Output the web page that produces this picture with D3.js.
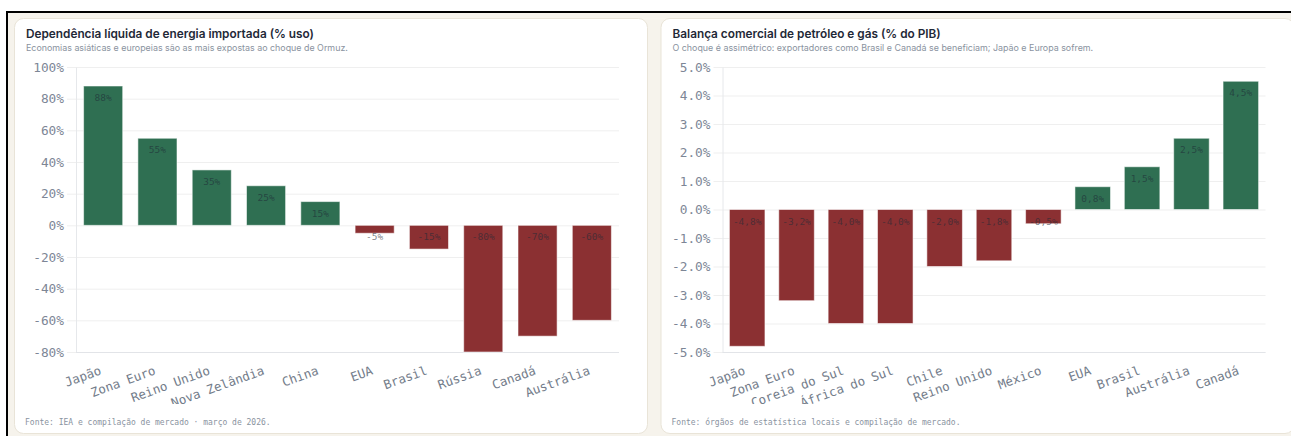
<!DOCTYPE html>
<html><head><meta charset="utf-8">
<script src="https://cdn.jsdelivr.net/npm/d3@7"></script>
<style>
html,body{margin:0;padding:0;background:#fff;}
svg{display:block;}
</style></head>
<body>
<svg id="root" width="1291" height="436"></svg>
<script>
// ---------- data ----------
const leftTitle = "Dependência líquida de energia importada (% uso)";
const leftSubtitle = "Economias asiáticas e europeias são as mais expostas ao choque de Ormuz.";
const leftSource = "Fonte: IEA e compilação de mercado · março de 2026.";
const leftCategories = ["Japão","Zona Euro","Reino Unido","Nova Zelândia","China","EUA","Brasil","Rússia","Canadá","Austrália"];
const leftValues = [88,55,35,25,15,-5,-15,-80,-70,-60];
const leftTicks = [100,80,60,40,20,0,-20,-40,-60,-80];

const rightTitle = "Balança comercial de petróleo e gás (% do PIB)";
const rightSubtitle = "O choque é assimétrico: exportadores como Brasil e Canadá se beneficiam; Japão e Europa sofrem.";
const rightSource = "Fonte: órgãos de estatística locais e compilação de mercado.";
const rightCategories = ["Japão","Zona Euro","Coreia do Sul","África do Sul","Chile","Reino Unido","México","EUA","Brasil","Austrália","Canadá"];
const rightValues = [-4.8,-3.2,-4.0,-4.0,-2.0,-1.8,-0.5,0.8,1.5,2.5,4.5];
const rightTicks = [5,4,3,2,1,0,-1,-2,-3,-4,-5];

// ---------- style ----------
const GREEN = "#2f6f52", RED = "#8b3032";
const MONO = "'DejaVu Sans Mono', monospace";
const SANS = "Inter, 'Noto Sans', sans-serif";

const svg = d3.select("#root");
svg.append("rect").attr("x",0).attr("y",0).attr("width",1291).attr("height",436).attr("fill","#fff");
// outer frame
svg.append("rect").attr("x",8).attr("y",13).attr("width",1283).attr("height",423).attr("fill","#f6f3ec");
svg.append("rect").attr("x",6).attr("y",11).attr("width",1285).attr("height",2).attr("fill","#000");
svg.append("rect").attr("x",6).attr("y",11).attr("width",2).attr("height",425).attr("fill","#000");

const defs = svg.append("defs");

function drawCard(opts, idx){
  const cx = opts.x, cy = 18.5, cw = 633, ch = 415;
  const card = svg.append("g");
  card.append("rect").attr("x",cx+0.5).attr("y",cy).attr("width",cw).attr("height",ch)
    .attr("rx",9).attr("fill","#fff").attr("stroke","#e9e4d8").attr("stroke-width",1);
  card.append("text").attr("x",cx+12).attr("y",38).text(opts.title)
    .style("font-family",SANS).style("font-size","11.8px").style("font-weight",600).attr("fill","#1f2937");
  card.append("text").attr("x",cx+12).attr("y",51).text(opts.subtitle)
    .style("font-family",SANS).style("font-size","8.9px").attr("fill","#8a93a0");
  card.append("text").attr("x",cx+11).attr("y",425).text(opts.source)
    .style("font-family",MONO).style("font-size","8px").attr("fill","#8a93a0");

  const x0 = cx + 62, x1 = cx + 605, yTop = 67, yBot = 352;
  const x = d3.scaleBand().domain(opts.categories).range([x0,x1]).paddingInner(0.28).paddingOuter(0.14);
  const y = d3.scaleLinear().domain(opts.domain).range([yBot,yTop]);

  defs.append("clipPath").attr("id","clip"+idx).append("rect")
    .attr("x",cx).attr("y",cy).attr("width",cw).attr("height",404-cy);
  const g = card.append("g").attr("clip-path","url(#clip"+idx+")");

  // grid
  g.append("g").selectAll("line").data(opts.ticks).join("line")
    .attr("x1",x0-9).attr("x2",x1).attr("y1",d=>y(d)+0.5).attr("y2",d=>y(d)+0.5)
    .attr("stroke","#efefef").attr("stroke-width",1);
  // y axis
  const ya = g.append("g").attr("transform",`translate(${x0},0)`)
    .call(d3.axisLeft(y).tickValues(opts.ticks).tickSize(0).tickPadding(12).tickFormat(opts.tickFmt));
  ya.select(".domain").attr("stroke","#e6e8eb");
  ya.selectAll("text").style("font-family",MONO).style("font-size","12.8px").attr("fill","#7d8696");
  // bottom line
  g.append("line").attr("x1",x0).attr("x2",x1).attr("y1",yBot+0.5).attr("y2",yBot+0.5).attr("stroke","#e2e4e8");

  // bars
  g.append("g").selectAll("rect").data(opts.values).join("rect")
    .attr("x",(d,i)=>x(opts.categories[i]))
    .attr("width",x.bandwidth())
    .attr("y",d=>y(Math.max(0,d)))
    .attr("height",d=>Math.abs(y(d)-y(0)))
    .attr("fill",d=>d>=0?GREEN:RED)
    .attr("stroke","rgba(255,255,255,0.55)").attr("stroke-width",1);
  // value labels
  g.append("g").selectAll("text").data(opts.values).join("text")
    .attr("x",(d,i)=>x(opts.categories[i])+x.bandwidth()/2)
    .attr("y",d=>y(Math.max(0,d))+15)
    .attr("text-anchor","middle")
    .style("font-family",MONO).style("font-size","9.5px")
    .attr("fill","#1e2a36").attr("fill-opacity",0.6)
    .text(opts.labelFmt);

  // x axis labels
  const xa = g.append("g").attr("transform",`translate(0,${yBot})`)
    .call(d3.axisBottom(x).tickSize(0).tickPadding(0));
  xa.select(".domain").remove();
  xa.selectAll("text")
    .attr("y",0).attr("dy",0)
    .attr("transform","translate(-1,22) rotate(-20)")
    .style("text-anchor","end")
    .style("font-family",MONO).style("font-size","12.5px").attr("fill","#737c8a");
}

drawCard({x:14, title:leftTitle, subtitle:leftSubtitle, source:leftSource,
  categories:leftCategories, values:leftValues, ticks:leftTicks, domain:[-80,100],
  tickFmt:d=>d+"%", labelFmt:d=>d+"%"}, 0);
drawCard({x:660.5, title:rightTitle, subtitle:rightSubtitle, source:rightSource,
  categories:rightCategories, values:rightValues, ticks:rightTicks, domain:[-5,5],
  tickFmt:d=>d.toFixed(1)+"%", labelFmt:d=>d.toFixed(1).replace(".",",")+"%"}, 1);
</script>
</body></html>
